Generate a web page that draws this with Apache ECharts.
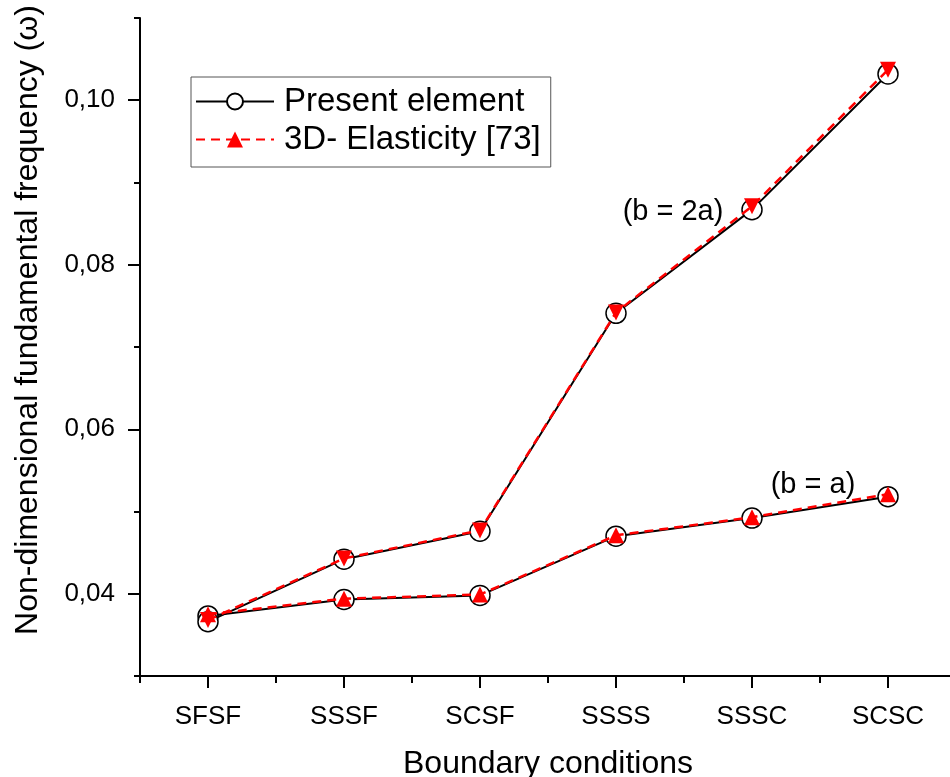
<!DOCTYPE html>
<html>
<head>
<meta charset="utf-8">
<script src="https://cdn.jsdelivr.net/npm/echarts@6/dist/echarts.min.js"></script>
<style>
html,body{margin:0;padding:0;background:#fff;}
#chart{width:950px;height:777px;}
</style>
</head>
<body>
<div id="chart"></div>
<script>
const categories = ['SFSF', 'SSSF', 'SCSF', 'SSSS', 'SSSC', 'SCSC'];
// b = a
const presentA = [0.0373, 0.0393, 0.0398, 0.0470, 0.0492, 0.0518];
const elastA   = [0.0375, 0.0394, 0.0399, 0.0471, 0.0493, 0.0521];
// b = 2a
const presentB = [0.0366, 0.0442, 0.0476, 0.0741, 0.0867, 0.1032];
const elastB   = [0.0368, 0.0443, 0.0477, 0.0742, 0.0871, 0.1037];
const yMajorTicks = [0.04, 0.06, 0.08, 0.10];

const FONT = '"Liberation Sans", Arial, sans-serif';
const chart = echarts.init(document.getElementById('chart'), null, {renderer: 'canvas'});

const gridTop = 18, gridH = 658, yMin = 0.03, yMax = 0.11;
const pix = v => gridTop + gridH * (yMax - v) / (yMax - yMin);
const majorTop = pix(yMajorTicks[yMajorTicks.length - 1]);
const majorBot = pix(yMajorTicks[0]);

const presentStyle = {
  type: 'line', name: 'Present element', symbol: 'circle', symbolSize: 20,
  itemStyle: {color: '#fff', borderColor: '#000', borderWidth: 1.5},
  lineStyle: {color: '#000', width: 2}, xAxisIndex: 0, yAxisIndex: 0, z: 2
};
const elastStyle = {
  type: 'line', name: '3D- Elasticity [73]', symbol: 'triangle', symbolSize: 16,
  itemStyle: {color: '#ff0000'},
  lineStyle: {color: '#ff0000', width: 2.5, type: [9, 6]}, xAxisIndex: 0, yAxisIndex: 0, z: 3
};

chart.setOption({
  animation: false,
  backgroundColor: '#fff',
  grid: [
    {left: 140, top: gridTop, width: 816, height: gridH, containLabel: false, outerBoundsMode: 'none'},
    {left: 140, top: majorTop, width: 816, height: majorBot - majorTop, containLabel: false, outerBoundsMode: 'none'}
  ],
  xAxis: [
    {gridIndex: 0, type: 'category', data: categories, boundaryGap: true, position: 'bottom',
     axisLine: {show: true, lineStyle: {color: '#000', width: 2}},
     axisTick: {show: true, alignWithLabel: false, length: 7, lineStyle: {color: '#000', width: 2}},
     axisLabel: {show: false}, splitLine: {show: false}},
    {gridIndex: 0, type: 'category', data: categories, boundaryGap: true, position: 'bottom',
     axisLine: {show: false},
     axisTick: {show: true, alignWithLabel: true, length: 12, lineStyle: {color: '#000', width: 2}},
     axisLabel: {show: true, fontSize: 26, color: '#000', fontFamily: FONT, margin: 28},
     name: 'Boundary conditions', nameLocation: 'middle', nameGap: 72,
     nameTextStyle: {fontSize: 32, color: '#000', fontFamily: FONT},
     splitLine: {show: false}},
    {gridIndex: 1, type: 'category', data: categories, show: false}
  ],
  yAxis: [
    {gridIndex: 0, type: 'value', min: yMin, max: yMax, interval: 0.01,
     axisLine: {show: true, lineStyle: {color: '#000', width: 2}},
     axisTick: {show: true, length: 6, lineStyle: {color: '#000', width: 2}},
     axisLabel: {show: false}, splitLine: {show: false}},
    {gridIndex: 1, type: 'value', min: yMajorTicks[0], max: yMajorTicks[yMajorTicks.length - 1], interval: 0.02,
     axisLine: {show: false},
     axisTick: {show: true, length: 12, lineStyle: {color: '#000', width: 2}},
     axisLabel: {show: true, fontSize: 26, color: '#000', fontFamily: FONT, margin: 25,
       formatter: v => v.toFixed(2).replace('.', ',')},
     splitLine: {show: false}}
  ],
  legend: {
    data: ['Present element', '3D- Elasticity [73]'],
    orient: 'vertical', left: 191, top: 77,
    itemWidth: 78, itemHeight: 20, itemGap: 5,
    padding: [8, 10, 11, 4],
    borderColor: '#555', borderWidth: 1,
    symbolRotate: 0,
    textStyle: {fontSize: 33, color: '#000', fontFamily: FONT, padding: [0, 0, 0, 5]}
  },
  graphic: [
    {type: 'text', x: 28, y: 320, rotation: Math.PI / 2,
     style: {text: 'Non-dimensional fundamental frequency (\u03c9)', fontSize: 32, fontFamily: FONT,
       fill: '#000', align: 'center', verticalAlign: 'middle'}},
    {type: 'text', x: 673, y: 212,
     style: {text: '(b = 2a)', fontSize: 29, fontFamily: FONT, fill: '#000', align: 'center', verticalAlign: 'middle'}},
    {type: 'text', x: 813, y: 485,
     style: {text: '(b = a)', fontSize: 29, fontFamily: FONT, fill: '#000', align: 'center', verticalAlign: 'middle'}}
  ],
  series: [
    Object.assign({}, presentStyle, {data: presentA}),
    Object.assign({}, presentStyle, {data: presentB}),
    Object.assign({}, elastStyle, {data: elastA}),
    Object.assign({}, elastStyle, {data: elastB, symbolRotate: 180})
  ]
});
</script>
</body>
</html>
